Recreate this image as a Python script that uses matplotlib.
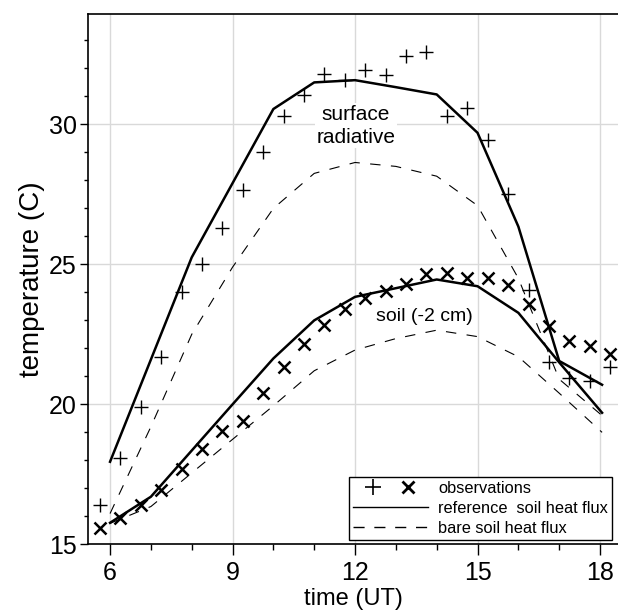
import matplotlib
matplotlib.use('Agg')

import matplotlib.pyplot as plt
from matplotlib.lines import Line2D
from matplotlib.legend_handler import HandlerTuple
from matplotlib.ticker import MultipleLocator

plt.rcParams['font.family'] = ['Liberation Sans', 'DejaVu Sans']
plt.rcParams['lines.scale_dashes'] = False

# observations every half hour
t_obs = [5.75, 6.25, 6.75, 7.25, 7.75, 8.25, 8.75, 9.25, 9.75, 10.25, 10.75, 11.25, 11.75,
         12.25, 12.75, 13.25, 13.75, 14.25, 14.75, 15.25, 15.75, 16.25, 16.75, 17.25, 17.75, 18.25]
surf_obs = [16.4, 18.1, 19.9, 21.7, 24.0, 25.0, 26.3, 27.65, 29.0, 30.3, 31.05, 31.8, 31.6,
            31.95, 31.75, 32.45, 32.6, 30.3, 30.6, 29.45, 27.5, 24.1, 21.5, 20.95, 20.85, 21.35]
soil_obs = [15.6, 15.95, 16.4, 16.95, 17.7, 18.4, 19.05, 19.4, 20.4, 21.35, 22.15, 22.85, 23.4,
            23.8, 24.05, 24.3, 24.65, 24.7, 24.5, 24.5, 24.25, 23.6, 22.8, 22.25, 22.1, 21.8]

# model runs, hourly
t_model = [6, 7, 8, 9, 10, 11, 12, 13, 14, 15, 16, 17, 18.05]
surf_ref = [17.95, 21.6, 25.25, 27.9, 30.55, 31.5, 31.58, 31.33, 31.07, 29.7, 26.35, 21.55, 20.7]
surf_bare = [16.1, 19.2, 22.5, 24.9, 27.0, 28.25, 28.64, 28.5, 28.15, 27.1, 24.5, 20.9, 19.6]
soil_ref = [15.77, 16.7, 18.35, 20.0, 21.64, 23.0, 23.84, 24.15, 24.46, 24.22, 23.27, 21.5, 19.7]
soil_bare = [15.75, 16.35, 17.55, 18.75, 19.95, 21.2, 21.94, 22.35, 22.65, 22.42, 21.7, 20.4, 19.0]

fig = plt.figure(figsize=(6.18, 6.13), dpi=100)
ax = fig.add_axes([0.1424, 0.112, 0.8576, 0.865])

dash = (0, (7.5, 7.5))
ax.plot(t_model, surf_ref, color='black', lw=1.8, zorder=3)
ax.plot(t_model, soil_ref, color='black', lw=1.8, zorder=3)
ax.plot(t_model, surf_bare, color='black', lw=0.8, linestyle=dash, zorder=3)
ax.plot(t_model, soil_bare, color='black', lw=0.8, linestyle=dash, zorder=3)
ax.plot(t_obs, surf_obs, linestyle='none', marker='+', ms=10, mew=1.0, color='black', zorder=4)
ax.plot(t_obs, soil_obs, linestyle='none', marker='x', ms=9, mew=1.8, color='black', zorder=4)

ax.text(12.02, 29.95, 'surface\nradiative', fontsize=15, ha='center', va='center',
        linespacing=1.25, bbox=dict(facecolor='white', edgecolor='none', pad=1), zorder=2)
ax.text(13.7, 23.15, 'soil (-2 cm)', fontsize=14, ha='center', va='center', zorder=2)

ax.set_xlim(5.46, 18.44)
ax.set_ylim(15, 33.94)
ax.xaxis.set_major_locator(MultipleLocator(3))
ax.xaxis.set_minor_locator(MultipleLocator(1))
ax.yaxis.set_major_locator(MultipleLocator(5))
ax.yaxis.set_minor_locator(MultipleLocator(1))
ax.tick_params(which='major', direction='out', width=1, labelsize=18)
ax.tick_params(axis='x', which='major', length=8, pad=4)
ax.tick_params(axis='y', which='major', length=6, pad=2)
ax.tick_params(axis='x', which='minor', direction='out', length=4, width=1)
ax.tick_params(axis='y', which='minor', direction='out', length=3, width=1)
ax.grid(True, which='major', color='#d9d9d9', lw=1)
ax.set_axisbelow(True)
ax.spines['right'].set_visible(False)
for s in ['left', 'bottom', 'top']:
    ax.spines[s].set_linewidth(1.2)

ax.set_xlabel('time (UT)', fontsize=17, labelpad=2)
ax.set_ylabel('temperature (C)', fontsize=20, labelpad=3)

h_plus = Line2D([], [], linestyle='none', marker='+', ms=11, mew=1.2, color='black')
h_x = Line2D([], [], linestyle='none', marker='x', ms=9, mew=2, color='black')
h_ref = Line2D([], [], color='black', lw=1)
h_bare = Line2D([], [], color='black', lw=1, linestyle=(0, (8, 7)))
leg = ax.legend([(h_plus, h_x), h_ref, h_bare],
                ['observations', 'reference  soil heat flux', 'bare soil heat flux'],
                handler_map={tuple: HandlerTuple(ndivide=None, pad=-0.3)},
                loc='lower right', bbox_to_anchor=(0.989, 0.008), borderaxespad=0,
                fontsize=11.8, handlelength=4.6, handletextpad=0.6, labelspacing=0.3,
                borderpad=0.25, fancybox=False, framealpha=1, edgecolor='black')
leg.get_frame().set_linewidth(1)

fig.savefig('out.png', dpi=100)
